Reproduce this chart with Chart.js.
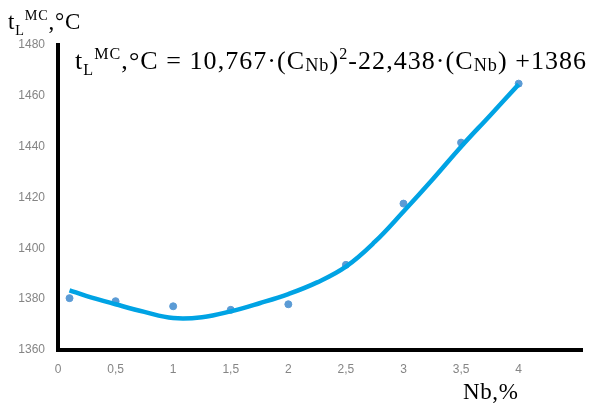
<!DOCTYPE html>
<html>
<head>
<meta charset="utf-8">
<script src="https://cdn.jsdelivr.net/npm/chart.js@4.4.1/dist/chart.umd.min.js"></script>
<style>
  html, body { margin: 0; padding: 0; background: #fff; }
  #wrap { position: relative; width: 595px; height: 405px; }
  canvas { position: absolute; left: 0; top: 0; }
  .lbl { position: absolute; font-family: "Liberation Serif", "Times New Roman", serif; color: #000; white-space: nowrap; line-height: 1; }
  .lbl sub, .lbl sup { font-size: 62%; line-height: 0; }
  .lbl .nb { font-size: 70%; vertical-align: -0.1em; }
  #ytitle { left: 8px; top: 10px; font-size: 23px; letter-spacing: 0.8px; }
  #eq { left: 75px; top: 48px; font-size: 26px; letter-spacing: 1.05px; }
  #xtitle { left: 463px; top: 380px; font-size: 23px; letter-spacing: 0.6px; }
</style>
</head>
<body>
<div id="wrap">
  <canvas id="myChart" width="595" height="405"></canvas>
  <div class="lbl" id="ytitle">t<sub>L</sub><sup>MC</sup>,°C</div>
  <div class="lbl" id="eq">t<sub>L</sub><sup>MC</sup>,°C = 10,767·(C<span class="nb">Nb</span>)<sup>2</sup>-22,438·(C<span class="nb">Nb</span>) +1386</div>
  <div class="lbl" id="xtitle">Nb,%</div>
</div>
<script>
// measured points
const nbValues = [0.1, 0.5, 1, 1.5, 2, 2.5, 3, 3.5, 4];
const tempValues = [1380.4, 1379.2, 1377.2, 1375.8, 1378, 1393.5, 1417.6, 1441.6, 1464.8];

// trend curve
const curveNb = [0.1, 0.25, 0.5, 0.75, 1, 1.25, 1.5, 1.75, 2, 2.25, 2.5, 2.75, 3, 3.25, 3.5, 3.75, 4];
const curveTemp = [1383.5, 1381.2, 1378, 1375, 1372.6, 1372.9, 1375.2, 1378.4, 1382, 1386.6, 1392.8, 1402.5, 1414.5, 1427, 1440, 1452.2, 1464.5];

const xTicks = [0, 0.5, 1, 1.5, 2, 2.5, 3, 3.5, 4];

function toPoints(xs, ys) {
    return xs.map((x, i) => ({ x: x, y: ys[i] }));
}

const ctx = document.getElementById('myChart').getContext('2d');
const myChart = new Chart(ctx, {
    type: 'scatter',
    data: {
        datasets: [{
            data: toPoints(curveNb, curveTemp),
            showLine: true,
            borderColor: '#00a3e4',
            borderWidth: 4.5,
            pointRadius: 0,
            tension: 0.4
        }, {
            data: toPoints(nbValues, tempValues),
            backgroundColor: '#5b9bd5',
            borderColor: '#5b9bd5',
            pointRadius: 3.5
        }]
    },
    options: {
        responsive: false,
        animation: false,
        layout: { padding: { top: 45, right: 13, left: 0, bottom: 0 } },
        plugins: { legend: { display: false }, tooltip: { enabled: false } },
        scales: {
            x: {
                type: 'linear',
                min: 0,
                max: 4.55,
                afterFit: (scale) => { scale.height = 55; },
                afterBuildTicks: (scale) => { scale.ticks = xTicks.map(v => ({ value: v })); },
                grid: { display: false, drawTicks: false },
                border: { display: true, color: '#000', width: 4 },
                ticks: {
                    padding: 12,
                    color: '#858585',
                    font: { family: 'Liberation Sans', size: 12 },
                    callback: (v) => String(v).replace('.', ',')
                }
            },
            y: {
                min: 1360,
                max: 1480,
                afterFit: (scale) => { scale.width = 58; },
                grid: { display: false, drawTicks: false },
                border: { display: true, color: '#000', width: 4 },
                ticks: {
                    stepSize: 20,
                    padding: 13,
                    color: '#858585',
                    font: { family: 'Liberation Sans', size: 12 },
                    callback: (v) => String(v)
                }
            }
        }
    }
});
</script>
</body>
</html>
